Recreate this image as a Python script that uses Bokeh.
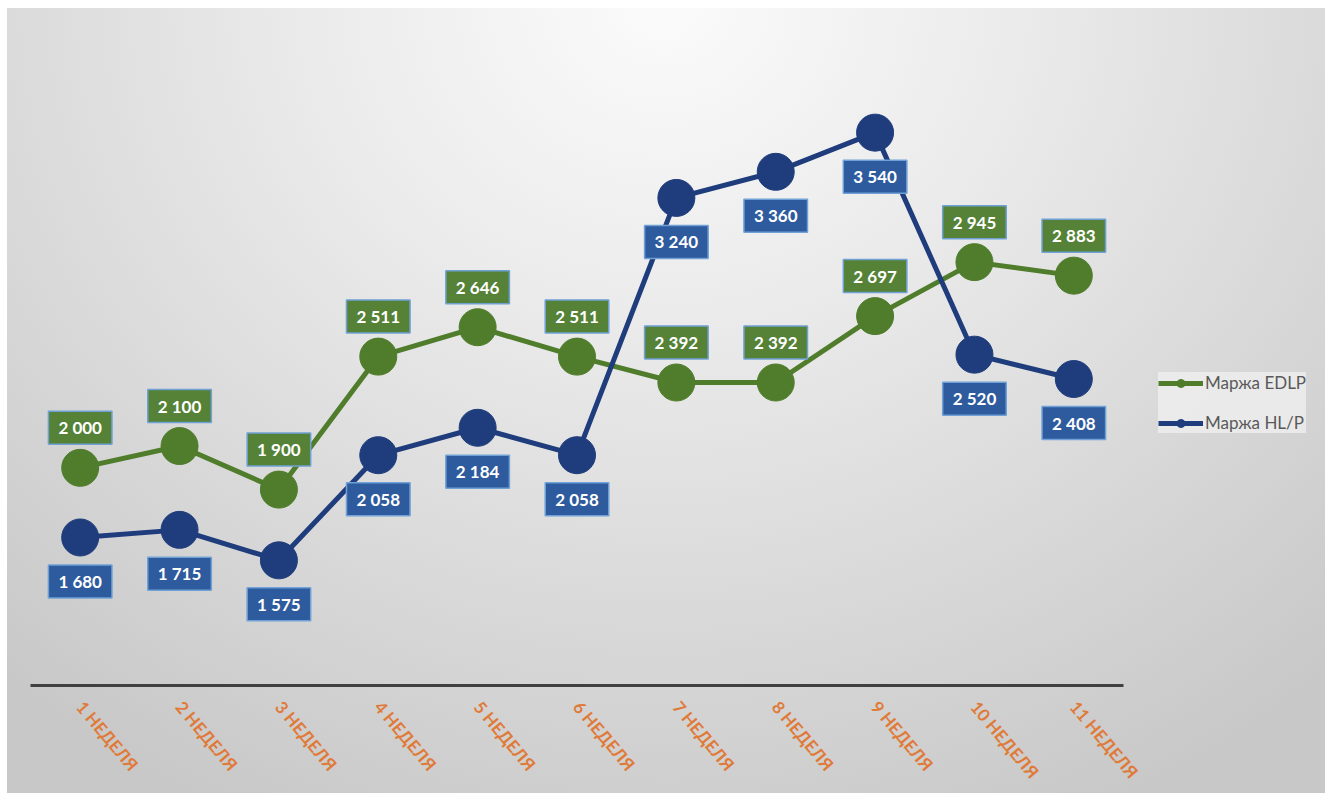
from bokeh.plotting import figure
from bokeh.models import ColumnDataSource, Legend, LegendItem, Range1d, FixedTicker
from bokeh.core.properties import value
from bokeh.embed import file_html
from bokeh.resources import INLINE

weeks = ["1 НЕДЕЛЯ", "2 НЕДЕЛЯ", "3 НЕДЕЛЯ", "4 НЕДЕЛЯ", "5 НЕДЕЛЯ", "6 НЕДЕЛЯ",
         "7 НЕДЕЛЯ", "8 НЕДЕЛЯ", "9 НЕДЕЛЯ", "10 НЕДЕЛЯ", "11 НЕДЕЛЯ"]
edlp = [2000, 2100, 1900, 2511, 2646, 2511, 2392, 2392, 2697, 2945, 2883]
hlp = [1680, 1715, 1575, 2058, 2184, 2058, 3240, 3360, 3540, 2520, 2408]
series_names = ["Маржа EDLP", "Маржа HL/P"]

GREEN = "#4f7d2b"
GREEN_BOX = "#558236"
BLUE = "#1f3d7c"
BLUE_BOX = "#2e5b9e"
BOX_BORDER = "#6fa1d6"


def fmt(v):
    return f"{v:,}".replace(",", " ")


xi = list(range(len(weeks)))
src_e = ColumnDataSource(dict(x=xi, y=edlp, t=[fmt(v) for v in edlp]))
src_h = ColumnDataSource(dict(x=xi, y=hlp, t=[fmt(v) for v in hlp]))

n = len(weeks)
# frame runs to the right edge so the legend can sit beside the data area
p = figure(x_range=Range1d(-0.5, -0.5 + n * 1295 / 1093), y_range=Range1d(1000, 4000),
           width=1325, height=793, output_backend="svg", toolbar_location=None,
           min_border_left=30, min_border_right=0, min_border_top=32,
           min_border_bottom=108)
p.background_fill_color = None
p.border_fill_color = None
p.outline_line_color = None
p.styles = {
    "background": (
        "linear-gradient(#ffffff,#ffffff) 0 0/100% 8px no-repeat, "
        "linear-gradient(#ffffff,#ffffff) 0 0/7px 100% no-repeat, "
        "radial-gradient(1000px 900px at 50% 0%, #fbfbfb 0%, #ebebeb 35%, "
        "#d8d8d8 70%, #c8c8c8 100%)"
    )
}

p.xgrid.visible = False
p.ygrid.visible = False
p.yaxis.visible = False

ax = p.xaxis[0]
ax.ticker = FixedTicker(ticks=xi)
ax.major_label_overrides = {i: w for i, w in zip(xi, weeks)}
ax.bounds = (-0.5, n - 0.5)
ax.axis_line_color = "#404040"
ax.axis_line_width = 3
ax.major_tick_line_color = None
ax.minor_tick_line_color = None
ax.major_label_orientation = -0.87
ax.major_label_text_color = "#e07a38"
ax.major_label_text_font = "Lato"
ax.major_label_text_font_style = "bold"
ax.major_label_text_font_size = "17px"
ax.major_label_standoff = 12

le = p.line("x", "y", source=src_e, line_color=GREEN, line_width=5)
p.scatter("x", "y", source=src_e, size=37, fill_color=GREEN, line_color=GREEN)
lh = p.line("x", "y", source=src_h, line_color=BLUE, line_width=5)
p.scatter("x", "y", source=src_h, size=37, fill_color=BLUE, line_color=BLUE)

# small markers (hidden inside the big ones) used for the legend glyphs
de = p.scatter("x", "y", source=src_e, size=9, fill_color=GREEN, line_color=GREEN)
dh = p.scatter("x", "y", source=src_h, size=9, fill_color=BLUE, line_color=BLUE)

for src, fill, off in ((src_e, GREEN_BOX, -40), (src_h, BLUE_BOX, 44)):
    p.text(x="x", y="y", text="t", source=src, y_offset=off,
           text_align="center", text_baseline="middle",
           text_color="white", text_font=value("Lato"), text_font_style="bold",
           text_font_size="17px", background_fill_color=fill,
           border_line_color=BOX_BORDER, border_line_width=1.5,
           padding=dict(x=10, y=6))

legend = Legend(items=[LegendItem(label=series_names[0], renderers=[le, de]),
                       LegendItem(label=series_names[1], renderers=[lh, dh])],
                location=(1128, 252), orientation="vertical",
                background_fill_color="#efefef", background_fill_alpha=0.8,
                border_line_color=None, label_text_font="Lato",
                label_text_font_size="17px", label_text_color="#595959",
                glyph_width=45, glyph_height=20, spacing=19, padding=9,
                label_standoff=2, margin=0)
p.add_layout(legend)

open("out.html", "w").write(file_html(p, INLINE))
